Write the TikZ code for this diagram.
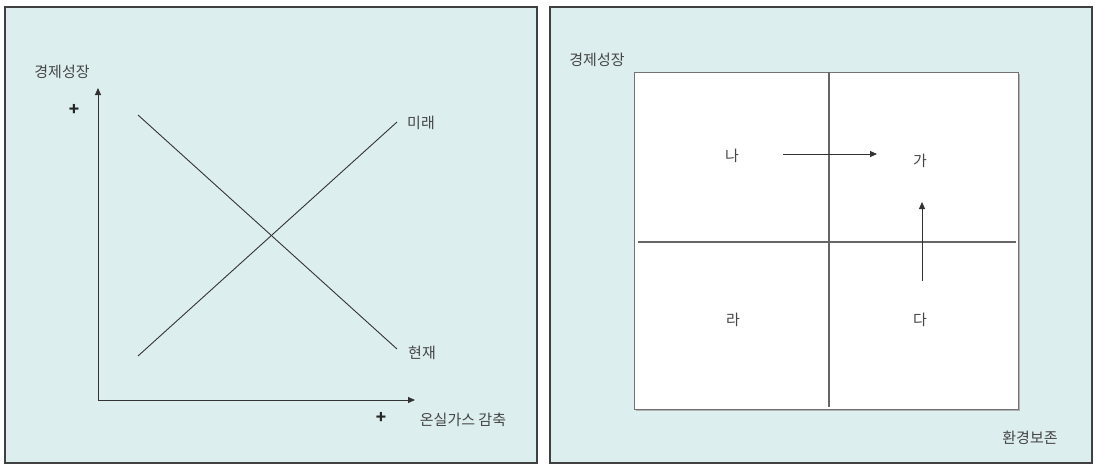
\documentclass[tikz,border=0pt]{standalone}
\usepackage{fontspec}
\newfontfamily\kr{Noto Sans CJK KR}
\usetikzlibrary{arrows.meta}
\definecolor{bgc}{HTML}{DDEEEF}
\definecolor{txt}{HTML}{454545}
\begin{document}
\begin{tikzpicture}[x=1pt,y=-1pt,
  panel/.style={draw=black!75,line width=1.4pt,fill=bgc},
  lbl/.style={font=\kr\fontsize{15}{17}\selectfont,text=txt,inner sep=1pt},
  plus/.style={font=\kr\bfseries\fontsize{17}{18}\selectfont,text=black!85,inner sep=1pt},
  ln/.style={draw=black!80,line width=0.9pt},
  arr/.style={draw=black!80,line width=0.9pt,-{Triangle[length=7pt,width=6pt]}},
  grid/.style={draw=black!60,line width=1.3pt}]
\useasboundingbox (0,0) rectangle (1095,474);
\fill[white] (0,0) rectangle (1095,474);
% left panel
\draw[panel] (5,7) rectangle (537,463);
\node[lbl] (ly) at (62,72) {경제성장};
\node[plus] (lyp) at (74,110) {+};
\coordinate (o) at (98,400);
\coordinate (ytop) at (98,88);
\coordinate (xend) at (415,400);
\draw[arr] (o) -- (ytop);
\draw[arr] (o) -- (xend);
\node[plus] (lxp) at (381,418) {+};
\node[lbl] (lx) at (463,420) {온실가스 감축};
\coordinate (ha) at (138,115);
\coordinate (hb) at (397,349);
\draw[ln] (ha) -- (hb);
\node[lbl] (hyun) at (422,353) {현재};
\coordinate (ma) at (138,356);
\coordinate (mb) at (397,122);
\draw[ln] (ma) -- (mb);
\node[lbl] (mirae) at (421,123) {미래};
% right panel
\draw[panel] (550,7) rectangle (1092,463);
\node[lbl] (ry) at (597,60) {경제성장};
\draw[fill=black!30,draw=none] (636,74) rectangle (1020,411);
\draw[draw=black!55,line width=1pt,fill=white] (634,72) rectangle (1018,409);
\draw[grid] (829,72) -- (829,407);
\draw[grid] (638,242) -- (1016,242);
\node[lbl] (na) at (732,156) {나};
\node[lbl] (ga) at (920,161) {가};
\node[lbl] (ra) at (733,320) {라};
\node[lbl] (da) at (920,320) {다};
\coordinate (a1) at (783,154);
\coordinate (a2) at (877,154);
\draw[arr] (a1) -- (a2);
\coordinate (b1) at (922,281);
\coordinate (b2) at (922,202);
\draw[arr] (b1) -- (b2);
\node[lbl] (rx) at (1030,438) {환경보존};
\end{tikzpicture}
\end{document}
